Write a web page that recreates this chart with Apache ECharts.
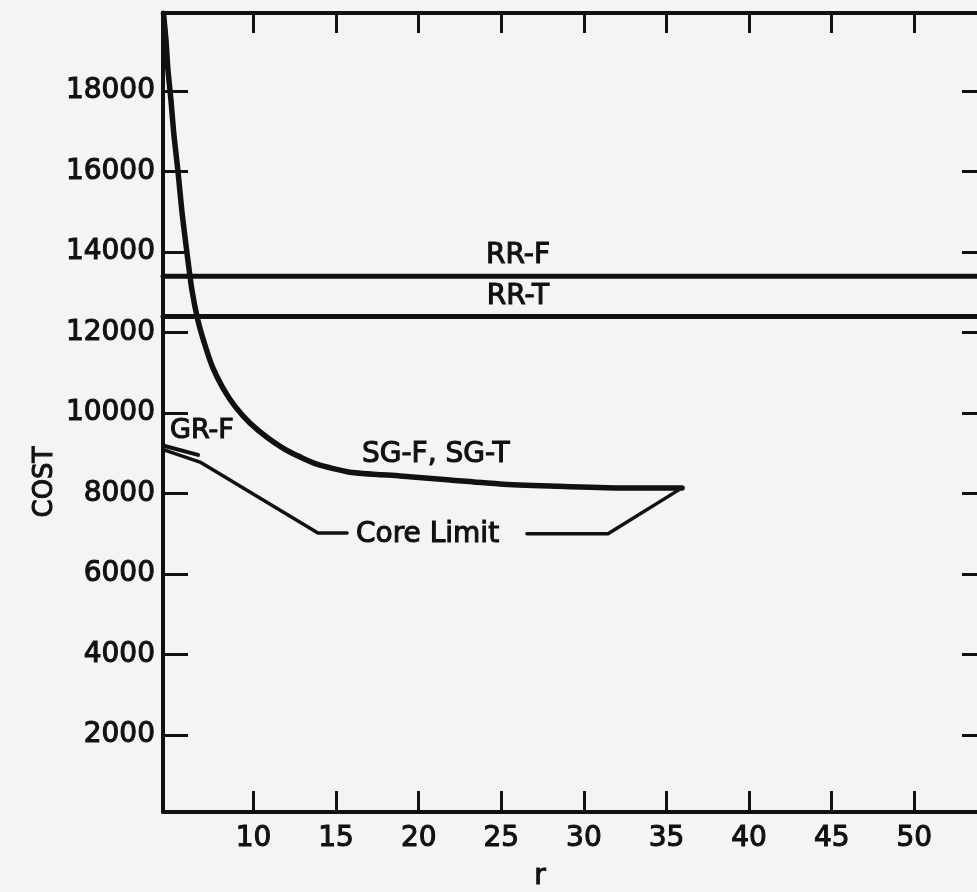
<!DOCTYPE html>
<html>
<head>
<meta charset="utf-8">
<script src="https://cdn.jsdelivr.net/npm/echarts@6/dist/echarts.min.js"></script>
<style>
html,body{margin:0;padding:0;overflow:hidden;background:#f4f4f2;}
#c{width:1000px;height:892px;}
</style>
</head>
<body>
<div id="c"></div>
<script>
// ---- data ----
const xTicks = [10, 15, 20, 25, 30, 35, 40, 45, 50];
const yTicks = [2000, 4000, 6000, 8000, 10000, 12000, 14000, 16000, 18000];
const xRange = [4.52, 54.34];
const yRange = [87, 19938];

const rrF = 13400;   // RR-F constant cost
const rrT = 12400;   // RR-T constant cost

const sgR    = [4.55, 4.70, 4.82, 5.00, 5.18, 5.43, 5.67, 5.97, 6.27, 6.63, 7.06, 7.54, 8.15, 8.87, 9.78, 10.87, 12.2, 13.84, 15.84, 18.87, 21.9, 24.92, 27.95, 32.18, 35.94];
const sgCost = [19930, 19270, 18520, 17780, 16910, 15990, 14990, 13980, 13060, 12310, 11690, 11120, 10620, 10170, 9750, 9380, 9030, 8730, 8530, 8435, 8336, 8237, 8187, 8137, 8137];

const grR    = [4.62, 6.64];
const grCost = [9180, 8960];

const coreAR    = [4.62, 6.76, 13.9, 15.66];
const coreACost = [9080, 8780, 7020, 7020];
const coreBR    = [26.55, 31.46, 35.94];
const coreBCost = [7000, 7000, 8140];

const zip = (a, b) => a.map((v, i) => [v, b[i]]);

const INK = '#111111';
const FONT = 'DejaVu Sans';

const chart = echarts.init(document.getElementById('c'), null, {renderer: 'canvas'});

const baseAxis = {
  type: 'value',
  splitLine: {show: false},
  axisLine: {show: true, onZero: false, lineStyle: {color: INK, width: 4}},
};

const lineSeries = (name, data, width) => ({
  name, type: 'line', data, showSymbol: false, symbol: 'none',
  lineStyle: {color: INK, width, cap: 'round', join: 'round'}, z: 3, animation: false
});

const labelStyle = {color: INK, fontFamily: FONT, fontSize: 28, textBorderColor: INK, textBorderWidth: 1.1};
const txt = (text, x, y, size, extra) => ({
  type: 'text', x, y,
  style: Object.assign({text, fill: INK, stroke: INK, lineWidth: 1.1,
    font: size + 'px "DejaVu Sans"', textAlign: 'center', textVerticalAlign: 'middle'}, extra || {})
});

chart.setOption({
  backgroundColor: '#f4f4f2',
  animation: false,
  grid: {left: 163, right: 14, top: 13, bottom: 80, containLabel: false},
  xAxis: [
    Object.assign({}, baseAxis, {
      position: 'bottom', min: xRange[0], max: xRange[1],
      axisTick: {show: true, inside: true, length: 21, customValues: xTicks, lineStyle: {color: INK, width: 3}},
      axisLabel: Object.assign({show: true, customValues: xTicks, margin: 13, formatter: v => String(v)}, labelStyle)
    }),
    Object.assign({}, baseAxis, {
      position: 'top', min: xRange[0], max: xRange[1],
      axisTick: {show: true, inside: true, length: 20, customValues: xTicks, lineStyle: {color: INK, width: 3}},
      axisLabel: {show: false}
    })
  ],
  yAxis: [
    Object.assign({}, baseAxis, {
      position: 'left', min: yRange[0], max: yRange[1],
      axisTick: {show: true, inside: true, length: 25, customValues: yTicks, lineStyle: {color: INK, width: 3}},
      axisLabel: Object.assign({show: true, customValues: yTicks, margin: 8, formatter: v => String(v)}, labelStyle)
    }),
    Object.assign({}, baseAxis, {
      position: 'right', min: yRange[0], max: yRange[1],
      axisTick: {show: true, inside: true, length: 24, customValues: yTicks, lineStyle: {color: INK, width: 3}},
      axisLabel: {show: false}
    })
  ],
  series: [
    lineSeries('RR-F', [[xRange[0], rrF], [xRange[1], rrF]], 5),
    lineSeries('RR-T', [[xRange[0], rrT], [xRange[1], rrT]], 5),
    Object.assign(lineSeries('SG-F, SG-T', zip(sgR, sgCost), 5.5), {smooth: 0.2}),
    lineSeries('GR-F', zip(grR, grCost), 4),
    lineSeries('Core Limit A', zip(coreAR, coreACost), 3.5),
    lineSeries('Core Limit B', zip(coreBR, coreBCost), 3.5)
  ],
  graphic: [
    txt('RR-F', 518, 256, 28),
    txt('RR-T', 518, 297, 28),
    txt('SG-F, SG-T', 362, 455, 28, {textAlign: 'left'}),
    txt('GR-F', 170, 431, 27, {textAlign: 'left'}),
    txt('Core Limit', 356, 535, 28, {textAlign: 'left'}),
    Object.assign(txt('COST', 45, 482, 26), {rotation: Math.PI / 2}),
    txt('r', 540, 877, 28)
  ]
});
</script>
</body>
</html>
